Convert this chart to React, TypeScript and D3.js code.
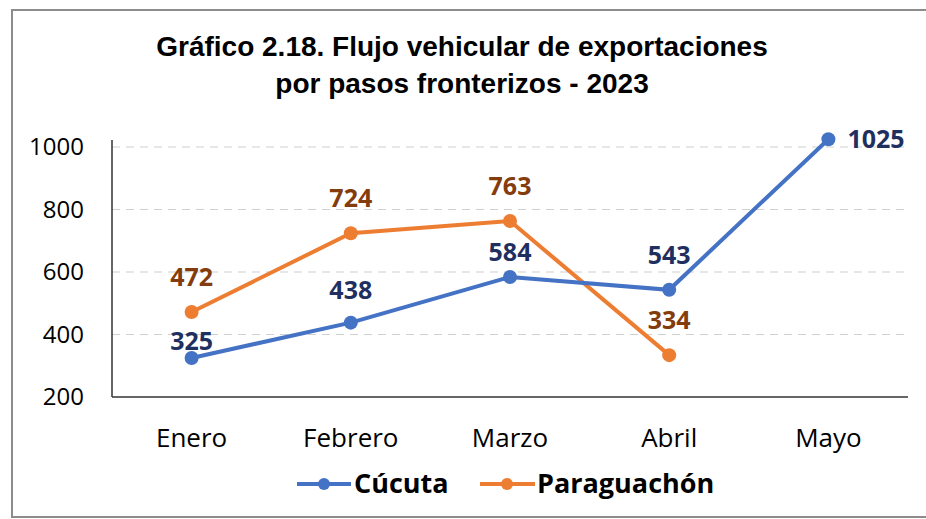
import React from "react";
import * as d3 from "d3";

const months = ["Enero", "Febrero", "Marzo", "Abril", "Mayo"];
const cucuta = [325, 438, 584, 543, 1025];
const paraguachon = [472, 724, 763, 334];
const yTicks = [200, 400, 600, 800, 1000];

const W = 926;
const H = 519;
const left = 112;
const right = 908;
const top = 147;
const bottom = 397;

const BLUE = "#4472C4";
const ORANGE = "#ED7D31";
const BLUE_LBL = "#1F3060";
const ORANGE_LBL = "#843C0C";

export default function App() {
  const x = d3.scaleBand().domain(months).range([left, right]);
  const cx = (m: string) => (x(m) as number) + x.bandwidth() / 2;
  const y = d3.scaleLinear().domain([200, 1000]).range([bottom, top]);

  const line = d3
    .line<number>()
    .x((_, i) => cx(months[i]))
    .y((d) => y(d));

  // label offsets above the point (px)
  const cucutaDy = [-8, -24, -16, -26, 0];
  const paraDy = [-26, -26, -26, -26];

  const font = "'Open Sans', sans-serif";

  return (
    <svg
      width={W}
      height={H}
      style={{ position: "absolute", left: 0, top: 0, background: "#fff" }}
    >
      <rect x={12} y={10} width={W} height={507} fill="#fff" stroke="#8c8c8c" strokeWidth={2} />

      <text
        x={462}
        y={56}
        textAnchor="middle"
        fontFamily="'Liberation Sans', sans-serif"
        fontWeight="bold"
        fontSize={28}
        fill="#000"
      >
        Gráfico 2.18. Flujo vehicular de exportaciones
      </text>
      <text
        x={462}
        y={93}
        textAnchor="middle"
        fontFamily="'Liberation Sans', sans-serif"
        fontWeight="bold"
        fontSize={28}
        fill="#000"
      >
        por pasos fronterizos - 2023
      </text>

      {/* grid */}
      {yTicks.slice(1).map((t) => (
        <line
          key={t}
          x1={left}
          x2={right}
          y1={y(t)}
          y2={y(t)}
          stroke="#d0d0d0"
          strokeWidth={1.2}
          strokeDasharray="8,6"
        />
      ))}
      {yTicks.map((t) => (
        <text
          key={t}
          x={84}
          y={y(t)}
          dy="0.35em"
          textAnchor="end"
          fontFamily={font}
          fontSize={24}
          fill="#000"
        >
          {t}
        </text>
      ))}

      {/* axes */}
      <line x1={left} x2={left} y1={140} y2={bottom} stroke="#333" strokeWidth={1.5} />
      <line x1={left} x2={right} y1={bottom} y2={bottom} stroke="#333" strokeWidth={1.5} />

      {months.map((m) => (
        <text
          key={m}
          x={cx(m)}
          y={447}
          textAnchor="middle"
          fontFamily={font}
          fontSize={26}
          fill="#000"
        >
          {m}
        </text>
      ))}

      {/* series */}
      <path d={line(paraguachon) || ""} fill="none" stroke={ORANGE} strokeWidth={4} />
      <path d={line(cucuta) || ""} fill="none" stroke={BLUE} strokeWidth={4} />

      {paraguachon.map((v, i) => (
        <circle key={"p" + i} cx={cx(months[i])} cy={y(v)} r={7} fill={ORANGE} />
      ))}
      {cucuta.map((v, i) => (
        <circle key={"c" + i} cx={cx(months[i])} cy={y(v)} r={7} fill={BLUE} />
      ))}

      {paraguachon.map((v, i) => (
        <text
          key={"pl" + i}
          x={cx(months[i])}
          y={y(v) + paraDy[i]}
          textAnchor="middle"
          fontFamily={font}
          fontWeight="bold"
          fontSize={25}
          fill={ORANGE_LBL}
        >
          {v}
        </text>
      ))}
      {cucuta.map((v, i) => {
        const last = i === cucuta.length - 1;
        return (
          <text
            key={"cl" + i}
            x={last ? cx(months[i]) + 19 : cx(months[i])}
            y={last ? y(v) : y(v) + cucutaDy[i]}
            dy={last ? "0.35em" : 0}
            textAnchor={last ? "start" : "middle"}
            fontFamily={font}
            fontWeight="bold"
            fontSize={25}
            fill={BLUE_LBL}
          >
            {v}
          </text>
        );
      })}

      {/* legend */}
      <g>
        <line x1={297} x2={351} y1={484} y2={484} stroke={BLUE} strokeWidth={4} />
        <circle cx={324} cy={484} r={6} fill={BLUE} />
        <text x={354} y={484} dy="0.35em" fontFamily={font} fontWeight="bold" fontSize={27} fill="#000">
          Cúcuta
        </text>
        <line x1={480} x2={535} y1={484} y2={484} stroke={ORANGE} strokeWidth={4} />
        <circle cx={507} cy={484} r={6} fill={ORANGE} />
        <text x={537} y={484} dy="0.35em" fontFamily={font} fontWeight="bold" fontSize={27} fill="#000">
          Paraguachón
        </text>
      </g>
    </svg>
  );
}
